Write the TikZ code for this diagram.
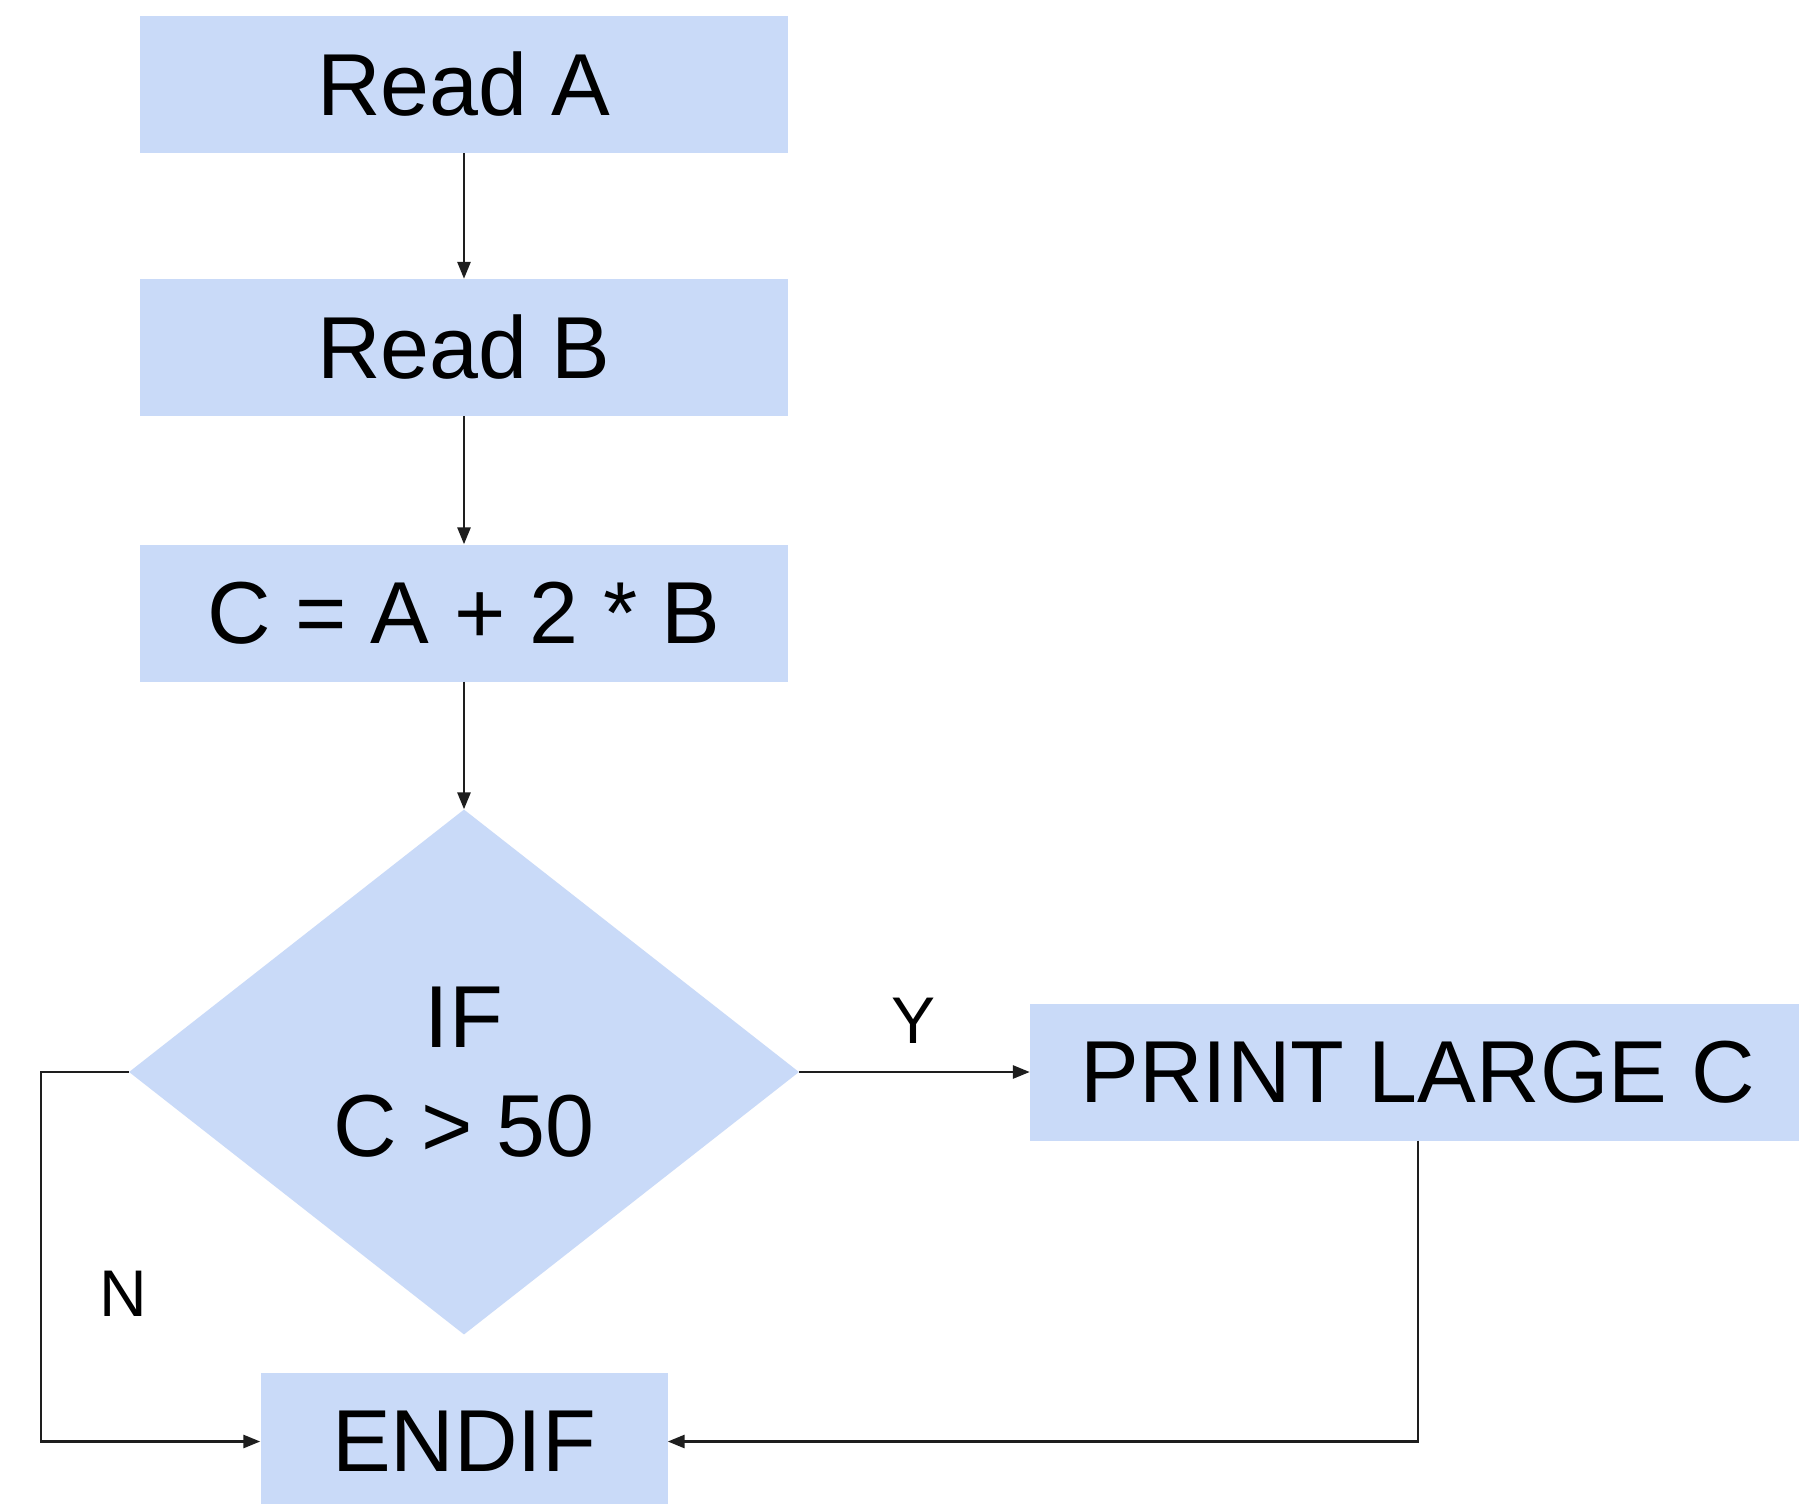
\documentclass[tikz,border=0pt]{standalone}
\usepackage{fontspec}
\setmainfont{Liberation Sans}
\usetikzlibrary{shapes.geometric,arrows.meta}
\definecolor{boxblue}{HTML}{C9DAF8}
\definecolor{wire}{HTML}{1E1E1E}
\begin{document}
\begin{tikzpicture}[x=1pt,y=-1pt,
  stepbox/.style={rectangle, fill=boxblue, minimum width=648pt, minimum height=137pt,
    inner sep=0pt, font=\fontsize{88}{106}\selectfont},
  decide/.style={diamond, fill=boxblue, minimum width=670pt, minimum height=525pt,
    inner sep=0pt, align=center, font=\fontsize{88}{109}\selectfont},
  flow/.style={draw=wire, line width=2.8pt, -{Triangle[length=17pt,width=13pt]}},
  tag/.style={inner sep=0pt, font=\fontsize{66}{80}\selectfont}]
\useasboundingbox (0,0) rectangle (1799,1504);
\fill[white] (0,0) rectangle (1799,1504);

% process steps
\node[stepbox] (ra) at (464,84.5) {Read A};
\node[stepbox] (rb) at (464,347.5) {Read B};
\node[stepbox] (calc) at (464,613) {C = A + 2 * B};
\node[decide] (test) at (464,1072) {IF\\C > 50};
\node[stepbox, minimum width=776pt] (out) at (1418,1072) {PRINT LARGE C};
\node[stepbox, minimum width=407pt] (done) at (464,1441.5) {ENDIF};

% branch labels
\node[tag] (ylab) at (914,1021) {Y};
\node[tag] (nlab) at (123,1294) {N};

% connectors
\coordinate (nx) at (41,1441.5);
\draw[flow] (ra) -- (rb);
\draw[flow] (rb) -- (calc);
\draw[flow] (calc) -- (test.north);
\draw[flow] (test.east) -- (out.west);
\draw[flow] (test.west) -| (nx) -- (done.west);
\draw[flow] (out.south) |- (done.east);
\end{tikzpicture}
\end{document}
